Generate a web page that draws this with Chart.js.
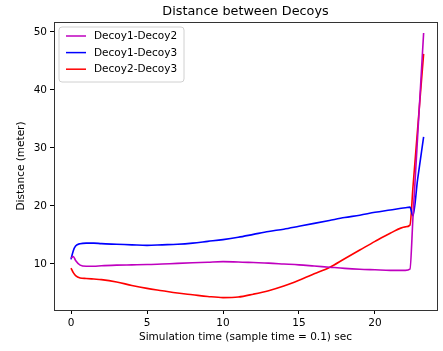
<!DOCTYPE html>
<html>
<head>
    <meta charset="utf-8" />
    <title>Distance between Decoys</title>
    <style>
        html, body {
            margin: 0;
            padding: 0;
            background: #fff;
        }

        #chartBox {
            width: 443px;
            height: 351px;
        }
    </style>
</head>
<body>
    <div id="chartBox">
        <canvas id="decoyChart" width="443" height="351"></canvas>
    </div>

    <script src="https://cdn.jsdelivr.net/npm/chart.js"></script>
    <script>
        // values
        const simTime = [0, 0.15, 0.3, 0.6, 1, 1.5, 2, 3, 4, 5, 6, 7, 8, 9, 10, 11, 12, 13, 14, 15, 16, 17, 18, 19, 20, 21, 22, 22.3, 22.5, 22.8, 23.2];
        const decoy1Decoy2 = [11.0, 11.3, 10.6, 9.8, 9.6, 9.6, 9.7, 9.8, 9.85, 9.9, 10.0, 10.1, 10.2, 10.3, 10.4, 10.35, 10.25, 10.15, 10.0, 9.85, 9.65, 9.45, 9.25, 9.1, 9.0, 8.9, 8.9, 9.1, 18.1, 31.7, 49.8];
        const decoy1Decoy3 = [10.8, 12.3, 13.1, 13.5, 13.6, 13.6, 13.5, 13.4, 13.3, 13.2, 13.3, 13.4, 13.6, 13.9, 14.2, 14.6, 15.1, 15.6, 16.0, 16.5, 17.0, 17.5, 18.0, 18.4, 18.9, 19.3, 19.7, 19.8, 18.3, 24.5, 31.9];
        const decoy2Decoy3 = [9.3, 8.5, 8.0, 7.6, 7.5, 7.4, 7.3, 6.9, 6.3, 5.8, 5.4, 5.0, 4.7, 4.4, 4.2, 4.3, 4.8, 5.4, 6.2, 7.2, 8.3, 9.4, 10.9, 12.4, 13.9, 15.3, 16.4, 16.7, 23.3, 33.1, 46.2];
        const xTicks = [0, 5, 10, 15, 20];
        const yTicks = [10, 20, 30, 40, 50];
        const chartTitle = 'Distance between Decoys';

        const fontFamily = '"DejaVu Sans", sans-serif';

        function toPoints(values) {
            return simTime.map((t, i) => ({ x: t, y: values[i] }));
        }

        // matplotlib look: legend box inside the axes, full frame, title centred on the axes
        const mplLook = {
            id: 'mplLook',
            afterDatasetsDraw(chart) {
                const ctx = chart.ctx;
                const area = chart.chartArea;
                const x = area.left + 5, y = area.top + 5, w = 125, h = 55, r = 3;
                ctx.save();
                ctx.beginPath();
                ctx.moveTo(x + r, y);
                ctx.arcTo(x + w, y, x + w, y + h, r);
                ctx.arcTo(x + w, y + h, x, y + h, r);
                ctx.arcTo(x, y + h, x, y, r);
                ctx.arcTo(x, y, x + w, y, r);
                ctx.closePath();
                ctx.fillStyle = 'rgba(255,255,255,0.8)';
                ctx.fill();
                ctx.strokeStyle = '#d0d0d0';
                ctx.lineWidth = 1;
                ctx.stroke();

                ctx.font = '10.5px ' + fontFamily;
                ctx.textBaseline = 'middle';
                chart.data.datasets.forEach((ds, i) => {
                    const ly = y + 9 + i * 16.6;
                    ctx.strokeStyle = ds.borderColor;
                    ctx.lineWidth = 1.5;
                    ctx.beginPath();
                    ctx.moveTo(x + 7, ly);
                    ctx.lineTo(x + 27, ly);
                    ctx.stroke();
                    ctx.fillStyle = '#000';
                    ctx.fillText(ds.label, x + 35, ly + 0.5);
                });
                ctx.restore();
            },
            afterDraw(chart) {
                const ctx = chart.ctx;
                const a = chart.chartArea;
                ctx.save();
                ctx.strokeStyle = '#333';
                ctx.lineWidth = 1;
                ctx.strokeRect(Math.round(a.left) + 0.5, Math.round(a.top) + 0.5,
                    Math.round(a.right - a.left), Math.round(a.bottom - a.top));

                ctx.fillStyle = '#000';
                ctx.font = '12.8px ' + fontFamily;
                ctx.textAlign = 'center';
                ctx.textBaseline = 'middle';
                ctx.fillText(chartTitle, (a.left + a.right) / 2, 12);
                ctx.restore();
            }
        };

        const ctx = document.getElementById('decoyChart').getContext('2d');
        const chart = new Chart(ctx, {
            type: 'line',
            data: {
                datasets: [{
                    label: 'Decoy1-Decoy2',
                    data: toPoints(decoy1Decoy2),
                    borderColor: '#bf00bf',
                }, {
                    label: 'Decoy1-Decoy3',
                    data: toPoints(decoy1Decoy3),
                    borderColor: '#0000ff',
                }, {
                    label: 'Decoy2-Decoy3',
                    data: toPoints(decoy2Decoy3),
                    borderColor: '#ff0000',
                }]
            },
            options: {
                responsive: false,
                animation: false,
                devicePixelRatio: 1,
                layout: { padding: { left: 0, right: 6, top: 22, bottom: 0 } },
                elements: {
                    point: { radius: 0 },
                    line: { borderWidth: 1.6, cubicInterpolationMode: 'monotone', fill: false }
                },
                plugins: {
                    legend: { display: false },
                    tooltip: { enabled: false },
                    title: { display: false }
                },
                scales: {
                    x: {
                        type: 'linear',
                        min: -1.12,
                        max: 24.08,
                        afterBuildTicks: scale => { scale.ticks = xTicks.map(v => ({ value: v })); },
                        afterFit: scale => { scale.height = 41; },
                        grid: { drawOnChartArea: false, tickLength: 4, tickColor: '#000' },
                        border: { display: false },
                        ticks: { color: '#000', padding: 3, maxRotation: 0, font: { family: fontFamily, size: 10.5 } },
                        title: {
                            display: true,
                            text: 'Simulation time (sample time = 0.1) sec',
                            color: '#000',
                            font: { family: fontFamily, size: 10.5 },
                            padding: { top: 0, bottom: 7 }
                        }
                    },
                    y: {
                        min: 2.07,
                        max: 51.7,
                        afterBuildTicks: scale => { scale.ticks = yTicks.map(v => ({ value: v })); },
                        afterFit: scale => { scale.width = 54; },
                        grid: { drawOnChartArea: false, tickLength: 4, tickColor: '#000' },
                        border: { display: false },
                        ticks: { color: '#000', padding: 3, font: { family: fontFamily, size: 10.5 } },
                        title: {
                            display: true,
                            text: 'Distance (meter)',
                            color: '#000',
                            font: { family: fontFamily, size: 10.5 },
                            padding: { top: 15, bottom: 0 }
                        }
                    }
                }
            },
            plugins: [mplLook]
        });
    </script>
</body>
</html>
